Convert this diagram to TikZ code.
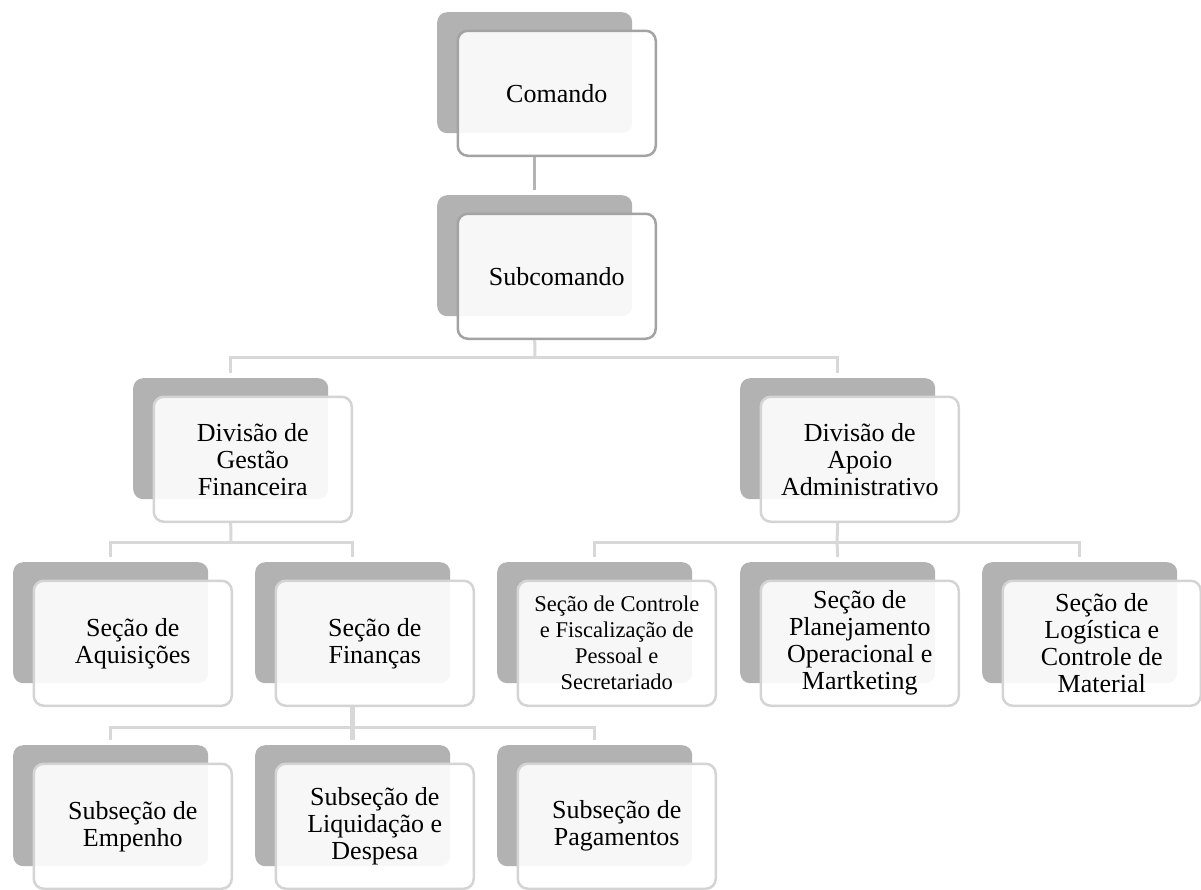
\documentclass[tikz,border=0pt]{standalone}
\usepackage{fontspec}
\setmainfont{Liberation Serif}
\definecolor{backgray}{HTML}{B2B2B2}
\definecolor{darkedge}{HTML}{A3A3A3}
\definecolor{lightedge}{HTML}{D4D4D4}
\definecolor{darkline}{HTML}{B4B4B4}
\definecolor{lightline}{HTML}{D8D8D8}
\tikzset{
  backbox/.style={draw=none, fill=backgray, rounded corners=10pt, minimum width=195pt, minimum height=121pt, inner sep=0pt, anchor=north west},
  frontbox/.style={draw=lightedge, line width=2.5pt, fill=white, fill opacity=0.9, text opacity=1, rounded corners=10pt, minimum width=198pt, minimum height=125pt, inner sep=2pt, anchor=north west, align=center, font=\fontsize{26}{27}\selectfont},
  topbox/.style={draw=darkedge},
  smalltext/.style={font=\fontsize{22.5}{26}\selectfont},
  conn/.style={draw=lightline, line width=3pt},
  topconn/.style={draw=darkline, line width=3pt}
}
\newcommand\orgunit[5]{%
  \node[backbox] (#1b) at (#2,#3) {};
  \node[frontbox,#4] (#1) at (#2+19.5,#3+17.5) {#5};
}
\begin{document}
\begin{tikzpicture}[x=1pt,y=-1pt]
\useasboundingbox (0,0) rectangle (1201,889);
% level 1 and 2
\orgunit{cmd}{437}{12}{topbox}{Comando}
\orgunit{sub}{437}{195}{topbox}{Subcomando}
% level 3
\orgunit{dgf}{133}{378}{}{Divisão de\\Gestão\\Financeira}
\orgunit{daa}{740}{378}{}{Divisão de\\Apoio\\Administrativo}
% level 4
\orgunit{aq}{13}{562}{}{Seção de\\Aquisições}
\orgunit{fin}{255}{562}{}{Seção de\\Finanças}
\orgunit{cfp}{497}{562}{smalltext}{Seção de Controle\\e Fiscalização de\\Pessoal e\\Secretariado}
\orgunit{pom}{740}{562}{}{Seção de\\Planejamento\\Operacional e\\Martketing}
\orgunit{lcm}{982}{562}{}{Seção de\\Logística e\\Controle de\\Material}
% level 5
\orgunit{emp}{13}{745}{}{Subseção de\\Empenho}
\orgunit{liq}{255}{745}{}{Subseção de\\Liquidação e\\Despesa}
\orgunit{pag}{497}{745}{}{Subseção de\\Pagamentos}
% junction coordinates
\coordinate (j1) at (535,357);
\coordinate (j2) at (231,542);
\coordinate (j3) at (837,542);
\coordinate (j4) at (353,727);
% connectors
\draw[topconn] (cmdb.south |- cmd.south) -- ([yshift=5pt]subb.north);
\draw[conn] (subb.south |- sub.south) -- (j1);
\draw[conn] ([yshift=5pt]dgfb.north) |- (j1) -| ([yshift=5pt]daab.north);
\draw[conn] (dgfb.south |- dgf.south) -- (j2);
\draw[conn] ([yshift=5pt]aqb.north) |- (j2) -| ([yshift=5pt]finb.north);
\draw[conn] (daab.south |- daa.south) -- (j3);
\draw[conn] ([yshift=5pt]cfpb.north) |- (j3) -| ([yshift=5pt]lcmb.north);
\draw[conn] (j3) -- ([yshift=5pt]pomb.north);
\draw[conn, line width=4.5pt] (finb.south |- fin.south) -- ([yshift=5pt]liqb.north);
\draw[conn] ([yshift=5pt]empb.north) |- (j4) -| ([yshift=5pt]pagb.north);
\end{tikzpicture}
\end{document}
